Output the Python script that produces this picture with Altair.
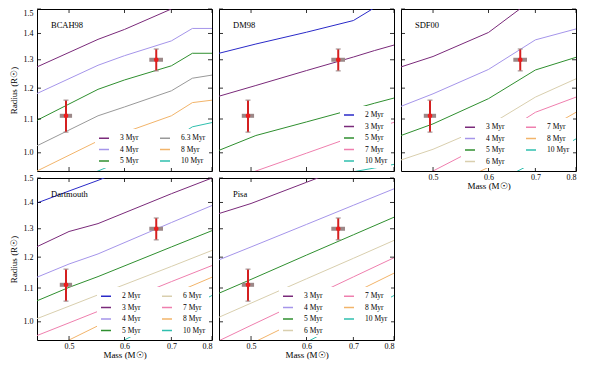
import altair as alt
import pandas as pd

FONT = "Liberation Serif"
W, H = 175, 162

MASS_DOMAIN = [0.45, 0.8]
R_DOMAIN = [0.95, 1.5]
X_TICKS = [0.5, 0.6, 0.7, 0.8]
Y_TICKS = [1.0, 1.1, 1.2, 1.3, 1.4, 1.5]

COLORS = {
    "2 Myr": "#2a2ac8",
    "3 Myr": "#7a2a7a",
    "4 Myr": "#a595ea",
    "5 Myr": "#2f8f2f",
    "6 Myr": "#d9cfae",
    "6.3 Myr": "#999999",
    "7 Myr": "#ef7fae",
    "8 Myr": "#f2b46a",
    "10 Myr": "#2fbfae",
}

# ---- isochrones (mass in Msun, radius in Rsun) ----
bcah98_mass = [0.45, 0.55, 0.6, 0.7, 0.75, 0.8]
bcah98_radius = {
    "3 Myr": [1.274, 1.377, 1.416, 1.500, 1.550, 1.580],
    "4 Myr": [1.182, 1.280, 1.315, 1.371, 1.420, 1.420],
    "5 Myr": [1.096, 1.196, 1.228, 1.278, 1.324, 1.324],
    "6.3 Myr": [1.020, 1.110, 1.138, 1.191, 1.234, 1.245],
    "8 Myr": [0.950, 1.034, 1.059, 1.110, 1.152, 1.160],
    "10 Myr": [0.880, 0.950, 0.980, 1.035, 1.076, 1.089],
}

dm98_mass = [0.45, 0.508, 0.6, 0.7, 0.75, 0.8]
dm98_radius = {
    "2 Myr": [1.324, 1.359, 1.405, 1.452, 1.505, 1.560],
    "3 Myr": [1.173, 1.209, 1.261, 1.310, 1.334, 1.355],
    "5 Myr": [1.007, 1.050, 1.091, 1.131, 1.150, 1.167],
    "7 Myr": [0.915, 0.950, 0.999, 1.047, 1.069, 1.090],
    "10 Myr": [0.820, 0.860, 0.905, 0.948, 0.958, 0.968],
}

sdf00_mass = [0.45, 0.5, 0.6, 0.7, 0.8]
sdf00_radius = {
    "3 Myr": [1.274, 1.312, 1.404, 1.550, 1.620],
    "4 Myr": [1.140, 1.181, 1.265, 1.375, 1.418],
    "5 Myr": [1.050, 1.085, 1.165, 1.263, 1.309],
    "6 Myr": [0.980, 1.010, 1.080, 1.170, 1.232],
    "7 Myr": [0.910, 0.950, 1.030, 1.121, 1.170],
    "8 Myr": [0.860, 0.890, 0.960, 1.050, 1.121],
    "10 Myr": [0.790, 0.830, 0.910, 0.975, 1.040],
}

dartmouth_mass = [0.45, 0.5, 0.55, 0.7, 0.8]
dartmouth_radius = {
    "2 Myr": [1.398, 1.446, 1.490, 1.620, 1.700],
    "3 Myr": [1.236, 1.290, 1.319, 1.435, 1.500],
    "4 Myr": [1.134, 1.177, 1.211, 1.323, 1.388],
    "5 Myr": [1.061, 1.102, 1.136, 1.235, 1.293],
    "6 Myr": [1.009, 1.045, 1.079, 1.169, 1.223],
    "7 Myr": [0.962, 0.997, 1.030, 1.120, 1.172],
    "8 Myr": [0.919, 0.950, 0.989, 1.080, 1.134],
    "10 Myr": [0.838, 0.877, 0.915, 1.016, 1.077],
}

pisa_mass = [0.45, 0.5, 0.6, 0.7, 0.8]
pisa_radius = {
    "3 Myr": [1.357, 1.396, 1.482, 1.559, 1.630],
    "4 Myr": [1.191, 1.235, 1.316, 1.389, 1.455],
    "5 Myr": [1.084, 1.127, 1.207, 1.278, 1.343],
    "6 Myr": [1.013, 1.054, 1.129, 1.196, 1.258],
    "7 Myr": [0.948, 0.990, 1.066, 1.135, 1.198],
    "8 Myr": [0.899, 0.940, 1.015, 1.084, 1.147],
    "10 Myr": [0.828, 0.869, 0.944, 1.013, 1.077],
}

# ---- the two stars ----
star_mass = [0.495, 0.666]
star_mass_err = [0.010, 0.015]
star_radius = [1.11, 1.30]
star_radius_err = [0.05, 0.04]

err_df = pd.DataFrame({"mass": star_mass, "radius": star_radius})
err_df["mlo"] = [m - e for m, e in zip(star_mass, star_mass_err)]
err_df["mhi"] = [m + e for m, e in zip(star_mass, star_mass_err)]
err_df["rlo"] = [r - e for r, e in zip(star_radius, star_radius_err)]
err_df["rhi"] = [r + e for r, e in zip(star_radius, star_radius_err)]

XT = pd.DataFrame({"mass": X_TICKS})
YT = pd.DataFrame({"radius": Y_TICKS})


def panel(name, masses, radii, columns, xlabels, ylabels, flush=False):
    rows = []
    order = list(radii.keys())
    for age, rs in radii.items():
        for m, r in zip(masses, rs):
            rows.append({"mass": m, "radius": r, "age": age})
    df = pd.DataFrame(rows)
    xs = alt.Scale(type="log", domain=MASS_DOMAIN, nice=False, zero=False)
    ys = alt.Scale(type="log", domain=R_DOMAIN, nice=False, zero=False)
    if xlabels:
        xaxis = alt.Axis(values=X_TICKS, format=".1f", title="Mass (M☉)", ticks=False,
                         domain=False, grid=False, labelFontSize=8, titleFontSize=9,
                         labelPadding=2, titlePadding=0, labelOverlap=False,
                         labelFont=FONT, titleFont=FONT, titleFontWeight="normal")
    else:
        xaxis = None
    if ylabels:
        yaxis = alt.Axis(values=Y_TICKS, format=".1f", title="Radius (R☉)", ticks=False,
                         domain=False, grid=False, labelFontSize=8, titleFontSize=9,
                         labelPadding=4, titlePadding=5, labelOverlap=False,
                         labelFlush=flush, labelFont=FONT, titleFont=FONT,
                         titleFontWeight="normal")
    else:
        yaxis = None

    X = lambda f: alt.X(f, scale=xs, axis=xaxis)
    Y = lambda f: alt.Y(f, scale=ys, axis=yaxis)

    lines = alt.Chart(df).mark_line(clip=True, strokeWidth=1).encode(
        x=X("mass:Q"),
        y=Y("radius:Q"),
        color=alt.Color(
            "age:N",
            scale=alt.Scale(domain=order, range=[COLORS[a] for a in order]),
            legend=alt.Legend(title=None, orient="bottom-right", columns=columns,
                              symbolType="stroke", symbolSize=100, symbolStrokeWidth=1.5,
                              labelFont=FONT, labelFontSize=7.5, rowPadding=1.5,
                              columnPadding=18, padding=3, offset=3, fillColor="white",
                              labelOffset=10),
        ),
    )
    ts = dict(color="black", strokeWidth=0.8)
    t1 = alt.Chart(YT).mark_rule(**ts).encode(y=Y("radius:Q"), x=alt.value(0), x2=alt.value(4))
    t2 = alt.Chart(YT).mark_rule(**ts).encode(y=Y("radius:Q"), x=alt.value(W - 4), x2=alt.value(W))
    t3 = alt.Chart(XT).mark_rule(**ts).encode(x=X("mass:Q"), y=alt.value(H - 4), y2=alt.value(H))
    t4 = alt.Chart(XT).mark_rule(**ts).encode(x=X("mass:Q"), y=alt.value(0), y2=alt.value(4))

    base = alt.Chart(err_df)
    hbar = base.mark_rule(color="#9c8888", strokeWidth=4).encode(
        x=X("mlo:Q"), x2="mhi:Q", y=Y("radius:Q"))
    vbar = base.mark_rule(color="#d42020", strokeWidth=2).encode(
        x=X("mass:Q"), y=Y("rlo:Q"), y2="rhi:Q")
    cap1 = base.mark_tick(color="#9c8888", thickness=1.5, size=5, orient="horizontal").encode(
        x=X("mass:Q"), y=Y("rlo:Q"))
    cap2 = base.mark_tick(color="#9c8888", thickness=1.5, size=5, orient="horizontal").encode(
        x=X("mass:Q"), y=Y("rhi:Q"))
    dot = base.mark_point(filled=True, color="#ee1c1c", size=22, opacity=1).encode(
        x=X("mass:Q"), y=Y("radius:Q"))

    label = alt.Chart(pd.DataFrame({"label": [name]})).mark_text(
        align="left", baseline="middle", font=FONT, fontSize=8.5, color="black"
    ).encode(text="label:N", x=alt.value(14), y=alt.value(16))

    return alt.layer(lines, t1, t2, t3, t4, hbar, vbar, cap1, cap2, dot, label).properties(
        width=W, height=H)


p1 = panel("BCAH98", bcah98_mass, bcah98_radius, 2, False, True, flush=True)
p2 = panel("DM98", dm98_mass, dm98_radius, 1, False, False)
p3 = panel("SDF00", sdf00_mass, sdf00_radius, 2, True, False)
p4 = panel("Dartmouth", dartmouth_mass, dartmouth_radius, 2, True, True)
p5 = panel("Pisa", pisa_mass, pisa_radius, 2, True, False)

chart = alt.concat(p1, p2, p3, p4, p5, columns=3, spacing=7, bounds="flush").resolve_scale(
    x="independent", y="independent", color="independent"
).resolve_legend(color="independent").properties(
    padding={"left": 0, "top": 0, "right": 2, "bottom": 0}, background="white"
).configure_view(stroke="black", strokeWidth=1)

chart.save("out.html", embed_options={"renderer": "svg", "actions": False})
